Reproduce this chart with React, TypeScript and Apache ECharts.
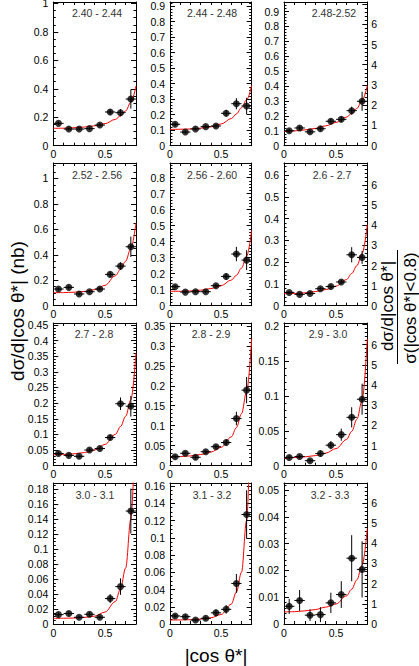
import React, { useEffect, useRef } from "react";
import * as echarts from "echarts";

// ---------- data ----------
const binCenters = [0.05, 0.15, 0.25, 0.35, 0.45, 0.55, 0.65, 0.75];
const binHalfWidth = 0.05;
const fitX = [0, 0.1, 0.2, 0.3, 0.4, 0.5, 0.6, 0.65, 0.7, 0.75, 0.8];

const wLabels = [
  "2.40 - 2.44", "2.44 - 2.48", "2.48-2.52",
  "2.52 - 2.56", "2.56 - 2.60", "2.6 - 2.7",
  "2.7 - 2.8", "2.8 - 2.9", "2.9 - 3.0",
  "3.0 - 3.1", "3.1 - 3.2", "3.2 - 3.3",
];

// values (nb), errors (nb), fit curve at fitX (nb)
const val_240 = [0.157, 0.117, 0.117, 0.12, 0.145, 0.237, 0.232, 0.328];
const err_240 = [0.012, 0.01, 0.01, 0.01, 0.012, 0.02, 0.025, 0.067];
const fit_240 = [0.122, 0.123, 0.126, 0.131, 0.14, 0.155, 0.185, 0.21, 0.245, 0.305, 0.42];

const val_244 = [0.138, 0.088, 0.108, 0.123, 0.127, 0.209, 0.271, 0.256];
const err_244 = [0.012, 0.01, 0.01, 0.01, 0.012, 0.022, 0.036, 0.053];
const fit_244 = [0.105, 0.106, 0.108, 0.113, 0.122, 0.14, 0.175, 0.205, 0.245, 0.295, 0.39];

const val_248 = [0.1, 0.119, 0.093, 0.114, 0.164, 0.177, 0.235, 0.298];
const err_248 = [0.014, 0.014, 0.014, 0.014, 0.016, 0.02, 0.027, 0.064];
const fit_248 = [0.096, 0.099, 0.106, 0.116, 0.133, 0.156, 0.192, 0.216, 0.25, 0.304, 0.403];

const val_252 = [0.131, 0.144, 0.092, 0.11, 0.131, 0.246, 0.311, 0.463];
const err_252 = [0.012, 0.015, 0.012, 0.012, 0.012, 0.02, 0.03, 0.08];
const fit_252 = [0.102, 0.103, 0.106, 0.112, 0.126, 0.16, 0.235, 0.285, 0.35, 0.45, 0.65];

const val_256 = [0.119, 0.085, 0.0875, 0.0875, 0.125, 0.183, 0.323, 0.285];
const err_256 = [0.01, 0.008, 0.008, 0.008, 0.01, 0.02, 0.045, 0.062];
const fit_256 = [0.09, 0.09, 0.092, 0.097, 0.107, 0.125, 0.16, 0.19, 0.235, 0.31, 0.47];

const val_26 = [0.061, 0.052, 0.056, 0.078, 0.088, 0.109, 0.234, 0.222];
const err_26 = [0.007, 0.006, 0.006, 0.007, 0.008, 0.01, 0.035, 0.03];
const fit_26 = [0.055, 0.056, 0.059, 0.065, 0.074, 0.09, 0.12, 0.148, 0.184, 0.24, 0.372];

const val_27 = [0.039, 0.033, 0.03, 0.05, 0.055, 0.09, 0.198, 0.19];
const err_27 = [0.006, 0.005, 0.005, 0.006, 0.006, 0.008, 0.02, 0.033];
const fit_27 = [0.035, 0.036, 0.038, 0.042, 0.05, 0.068, 0.1, 0.125, 0.158, 0.21, 0.36];

const val_28 = [0.0225, 0.031, 0.021, 0.035, 0.0475, 0.058, 0.118, 0.189];
const err_28 = [0.004, 0.004, 0.004, 0.004, 0.005, 0.008, 0.017, 0.033];
const fit_28 = [0.0225, 0.023, 0.0245, 0.028, 0.034, 0.046, 0.072, 0.095, 0.13, 0.185, 0.318];

const val_29 = [0.0119, 0.0133, 0.0072, 0.0174, 0.0295, 0.0446, 0.0695, 0.0955];
const err_29 = [0.003, 0.003, 0.0023, 0.0043, 0.0058, 0.0087, 0.0145, 0.0223];
const fit_29 = [0.011, 0.0116, 0.0127, 0.0145, 0.018, 0.0246, 0.0376, 0.0492, 0.0666, 0.094, 0.182];

const val_30 = [0.0125, 0.014, 0.009, 0.013, 0.009, 0.034, 0.05, 0.151];
const err_30 = [0.003, 0.003, 0.002, 0.003, 0.002, 0.006, 0.011, 0.03];
const fit_30 = [0.0075, 0.0077, 0.008, 0.0088, 0.0105, 0.016, 0.03, 0.047, 0.075, 0.14, 0.3];

const val_31 = [0.0093, 0.0085, 0.0046, 0.0066, 0.013, 0.017, 0.047, 0.127];
const err_31 = [0.002, 0.002, 0.0015, 0.002, 0.004, 0.005, 0.011, 0.028];
const fit_31 = [0.0046, 0.0047, 0.005, 0.0057, 0.0072, 0.011, 0.023, 0.037, 0.06, 0.12, 0.3];

const val_32 = [0.0066, 0.0088, 0.0033, 0.0035, 0.0079, 0.011, 0.0246, 0.0204];
const err_32 = [0.0028, 0.0039, 0.0022, 0.0028, 0.0038, 0.005, 0.0086, 0.0105];
const fit_32 = [0.0045, 0.0046, 0.0049, 0.0054, 0.0063, 0.0075, 0.0105, 0.013, 0.0165, 0.022, 0.0356];

// axis ranges and tick steps (left axis nb, right axis normalised)
const yMaxes = [1.01, 0.927, 0.964, 1.121, 0.892, 0.656, 0.456, 0.357, 0.205, 0.1885, 0.1635, 0.0527];
const ySteps = [0.2, 0.1, 0.1, 0.2, 0.1, 0.1, 0.05, 0.05, 0.05, 0.02, 0.02, 0.01];
const yMinorSplits = [4, 5, 5, 4, 5, 5, 5, 5, 5, 4, 4, 5];
const rightMaxes = [7.1, 7.1, 7.07, 6.99];
const rightStep = 1;
const rightTickLabels = [0, 1, 2, 3, 4, 5, 6];
const xTickLabels = [0, 0.5];

const allValues = [val_240, val_244, val_248, val_252, val_256, val_26, val_27, val_28, val_29, val_30, val_31, val_32];
const allErrors = [err_240, err_244, err_248, err_252, err_256, err_26, err_27, err_28, err_29, err_30, err_31, err_32];
const allFits = [fit_240, fit_244, fit_248, fit_252, fit_256, fit_26, fit_27, fit_28, fit_29, fit_30, fit_31, fit_32];

// ---------- layout ----------
const colLeft = [53.3, 170, 284];
const colRight = [136, 251.7, 367.3];
const rowTop = [2, 163, 323, 483];
const rowBottom = [145.7, 305.7, 465.7, 624];
const titleX = [97, 212, 334, 97, 212, 332, 94, 211, 328, 95, 212, 330];
const titleY = [13, 175, 334, 495];

const FONT = "'Liberation Sans', Arial, Helvetica, sans-serif";
const BLACK = "#000";

function fmtNum(v: number) {
  return String(parseFloat(v.toFixed(4)));
}

function buildOption() {
  const grid: any[] = [];
  const xAxis: any[] = [];
  const yAxis: any[] = [];
  const series: any[] = [];
  const graphic: any[] = [];

  for (let i = 0; i < 12; i++) {
    const row = Math.floor(i / 3);
    const col = i % 3;
    grid.push({
      left: colLeft[col],
      top: rowTop[row],
      width: colRight[col] - colLeft[col],
      height: rowBottom[row] - rowTop[row],
      containLabel: false,
      outerBoundsMode: "none",
      show: false,
    });
    const common = {
      gridIndex: i,
      type: "value",
      min: 0,
      splitLine: { show: false },
      axisLine: { show: true, onZero: false, lineStyle: { color: BLACK, width: 1 } },
    };
    // bottom x
    xAxis.push({
      ...common,
      position: "bottom",
      max: 0.8,
      interval: 0.1,
      axisTick: { show: true, inside: true, length: 3, lineStyle: { color: BLACK } },
      axisLabel: {
        show: true,
        margin: 3,
        fontSize: 10.5,
        fontFamily: FONT,
        color: BLACK,
        hideOverlap: false,
        showMinLabel: true,
        formatter: (v: number) =>
          xTickLabels.some((t) => Math.abs(t - v) < 1e-6) ? fmtNum(v) : "",
      },
    });
    // top x (mirror ticks)
    xAxis.push({
      ...common,
      position: "top",
      max: 0.8,
      interval: 0.1,
      axisTick: { show: true, inside: true, length: 3, lineStyle: { color: BLACK } },
      axisLabel: { show: false },
    });
    const step = ySteps[i];
    const leftLabel = {
      show: true,
      margin: 5,
      fontSize: 10.5,
      fontFamily: FONT,
      color: BLACK,
      hideOverlap: false,
      showMinLabel: true,
      showMaxLabel: true,
      formatter: (v: number) => {
        const k = v / step;
        return Math.abs(k - Math.round(k)) > 1e-6 ? "" : fmtNum(v);
      },
    };
    // left y
    yAxis.push({
      ...common,
      position: "left",
      max: yMaxes[i],
      interval: step,
      axisTick: { show: true, inside: true, length: 5, lineStyle: { color: BLACK } },
      minorTick: { show: true, splitNumber: yMinorSplits[i], length: 2.5, lineStyle: { color: BLACK } },
      axisLabel: leftLabel,
    });
    // right y
    if (col < 2) {
      yAxis.push({
        ...common,
        position: "right",
        max: yMaxes[i],
        interval: step,
        axisTick: { show: true, inside: true, length: 5, lineStyle: { color: BLACK } },
        minorTick: { show: true, splitNumber: yMinorSplits[i], length: 2.5, lineStyle: { color: BLACK } },
        axisLabel: { show: false },
      });
    } else {
      yAxis.push({
        ...common,
        position: "right",
        max: rightMaxes[row],
        interval: rightStep,
        axisTick: { show: true, inside: true, length: 5, lineStyle: { color: BLACK } },
        minorTick: { show: true, splitNumber: 5, length: 2.5, lineStyle: { color: BLACK } },
        axisLabel: {
          show: true,
          margin: 4,
          fontSize: 10.5,
          fontFamily: FONT,
          color: BLACK,
          hideOverlap: false,
          showMinLabel: true,
          showMaxLabel: true,
          formatter: (v: number) =>
            rightTickLabels.some((t) => Math.abs(t - v) < 1e-6) ? fmtNum(v) : "",
        },
      });
    }

    const xi = 2 * i;
    const yi = 2 * i;
    const vals = allValues[i];
    const errs = allErrors[i];
    const fit = allFits[i];

    series.push({
      type: "line",
      xAxisIndex: xi,
      yAxisIndex: yi,
      data: fitX.map((x, j) => [x, fit[j]]),
      smooth: 0.35,
      smoothMonotone: "x",
      symbol: "none",
      clip: true,
      lineStyle: { color: "#ff0000", width: 1 },
      z: 3,
    });
    series.push({
      type: "custom",
      coordinateSystem: "cartesian2d",
      xAxisIndex: xi,
      yAxisIndex: yi,
      clip: true,
      encode: { x: 0, y: 1 },
      data: binCenters.map((x, j) => [x, vals[j], errs[j]]),
      renderItem: (_params: any, api: any) => {
        const x = api.value(0) as number;
        const y = api.value(1) as number;
        const e = api.value(2) as number;
        const l = api.coord([x - binHalfWidth, y]);
        const r = api.coord([x + binHalfWidth, y]);
        const t = api.coord([x, y + e]);
        const b = api.coord([x, y - e]);
        const style = { stroke: BLACK, lineWidth: 1 };
        return {
          type: "group",
          children: [
            { type: "line", shape: { x1: l[0], y1: l[1], x2: r[0], y2: r[1] }, style },
            { type: "line", shape: { x1: t[0], y1: t[1], x2: b[0], y2: b[1] }, style },
          ],
        };
      },
      z: 4,
    });
    series.push({
      type: "scatter",
      xAxisIndex: xi,
      yAxisIndex: yi,
      data: binCenters.map((x, j) => [x, vals[j]]),
      symbol: "circle",
      symbolSize: 7,
      itemStyle: { color: BLACK },
      z: 5,
    });

    graphic.push({
      type: "text",
      x: titleX[i],
      y: titleY[row],
      style: {
        text: wLabels[i],
        x: 0,
        y: 0,
        align: "center",
        verticalAlign: "middle",
        fontSize: 10.5,
        fontFamily: FONT,
        fill: "#333",
      },
    });
  }

  // axis titles
  graphic.push({
    type: "text",
    x: 17,
    y: 311,
    rotation: Math.PI / 2,
    style: {
      text: "dσ/d|cos θ*| (nb)",
      x: 0,
      y: 0,
      align: "center",
      verticalAlign: "middle",
      fontSize: 19,
      fontFamily: FONT,
      fill: BLACK,
    },
  });
  graphic.push({
    type: "text",
    x: 216,
    y: 655,
    style: {
      text: "|cos θ*|",
      x: 0,
      y: 0,
      align: "center",
      verticalAlign: "middle",
      fontSize: 19,
      fontFamily: FONT,
      fill: BLACK,
    },
  });
  graphic.push({
    type: "text",
    x: 387,
    y: 306,
    rotation: Math.PI / 2,
    style: {
      text: "dσ/d|cos θ*|",
      x: 0,
      y: 0,
      align: "center",
      verticalAlign: "middle",
      fontSize: 17,
      fontFamily: FONT,
      fill: BLACK,
    },
  });
  graphic.push({
    type: "line",
    shape: { x1: 397.5, y1: 250, x2: 397.5, y2: 364 },
    style: { stroke: BLACK, lineWidth: 1 },
  });
  graphic.push({
    type: "text",
    x: 410,
    y: 308,
    rotation: Math.PI / 2,
    style: {
      text: "σ(|cos θ*|<0.8)",
      x: 0,
      y: 0,
      align: "center",
      verticalAlign: "middle",
      fontSize: 17,
      fontFamily: FONT,
      fill: BLACK,
    },
  });

  return {
    animation: false,
    backgroundColor: "#fff",
    grid,
    xAxis,
    yAxis,
    series,
    graphic,
  };
}

export default function App() {
  const ref = useRef<HTMLDivElement>(null);
  useEffect(() => {
    if (!ref.current) return;
    const chart = echarts.init(ref.current, undefined, { renderer: "svg" });
    chart.setOption(buildOption() as any);
    return () => chart.dispose();
  }, []);
  return (
    <div
      ref={ref}
      style={{ position: "absolute", left: 0, top: 0, width: 419, height: 666, background: "#fff" }}
    />
  );
}
